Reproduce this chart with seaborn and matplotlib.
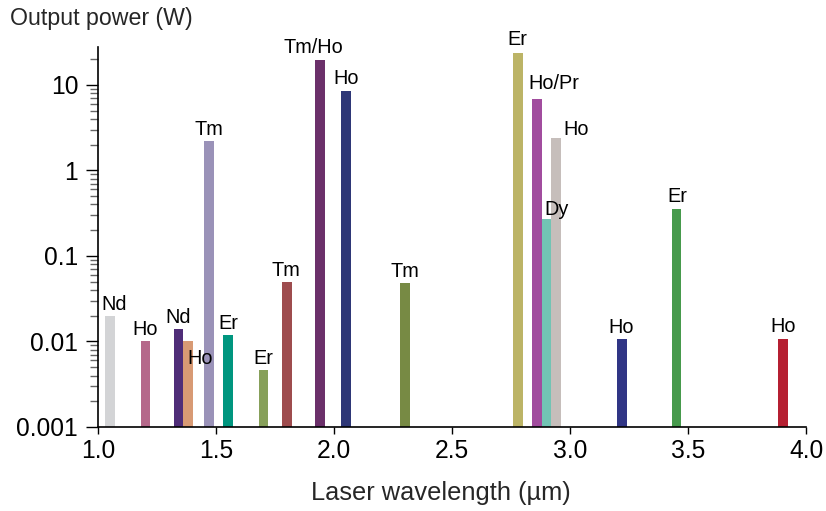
import matplotlib
matplotlib.use("Agg")
import matplotlib.pyplot as plt
import matplotlib.ticker as mticker
import numpy as np
import pandas as pd
import seaborn as sns

# ---- data ----
wavelength_um = [1.05, 1.20, 1.34, 1.38, 1.47, 1.55, 1.70, 1.80, 1.94, 2.05,
                 2.30, 2.78, 2.86, 2.90, 2.94, 3.22, 3.45, 3.90]
power_w = [0.020, 0.010, 0.014, 0.010, 2.2, 0.012, 0.0047, 0.050, 19.5, 8.6,
           0.048, 23.5, 6.9, 0.27, 2.4, 0.0107, 0.355, 0.0108]
ion = ["Nd", "Ho", "Nd", "Ho", "Tm", "Er", "Er", "Tm", "Tm/Ho", "Ho",
       "Tm", "Er", "Ho/Pr", "Dy", "Ho", "Ho", "Er", "Ho"]
xticks = [1.0, 1.5, 2.0, 2.5, 3.0, 3.5, 4.0]
yticks = [0.001, 0.01, 0.1, 1, 10]
ytick_labels = ["0.001", "0.01", "0.1", "1", "10"]

# ---- styles ----
bar_colors = ["#d3d4d6", "#b5688a", "#4f2d78", "#d89a74", "#9a92b8", "#00967f",
              "#87a05a", "#9e4c4e", "#6b306a", "#2e3777", "#778a44", "#bcb466",
              "#a14c9e", "#72c4b4", "#c6bebb", "#303585", "#469a4c", "#b51f31"]
# label offsets in pixels (dx, dy) and vertical alignment
label_offsets = [(4, 6), (0, 6), (0, 6), (12, -8), (0, 6), (0, 6), (0, 6), (-1, 6),
                 (-7, 7), (0, 7), (0, 6), (-1, 8), (17, 10), (10, 4), (20, 3),
                 (-1, 6), (1, 7), (0, 7)]
label_va = ["baseline"] * len(ion)
label_va[3] = "top"

df = pd.DataFrame({"wl": wavelength_um, "p": power_w,
                   "id": [f"b{i}" for i in range(len(ion))]})
palette = {f"b{i}": c for i, c in enumerate(bar_colors)}

sns.set_style("ticks")
plt.rcParams["font.family"] = ["Liberation Sans", "DejaVu Sans"]

fig = plt.figure(figsize=(8.26, 5.11), dpi=100)
ax = fig.add_axes([98.3 / 826, 1 - 427 / 511, (806.3 - 98.3) / 826, (427 - 46.7) / 511])
ax.set_yscale("log")

sns.barplot(data=df, x="wl", y="p", hue="id", palette=palette, native_scale=True,
            dodge=False, width=1.05, legend=False, ax=ax, saturation=1,
            linewidth=0, errorbar=None)

ax.set_xlim(1.0, 4.0)
ax.set_ylim(0.001, 28)
ax.set_xticks(xticks)
ax.set_xticklabels([f"{t:.1f}" for t in xticks])
ax.set_yticks(yticks)
ax.set_yticklabels(ytick_labels)
ax.yaxis.set_minor_locator(mticker.LogLocator(base=10, subs=np.arange(2, 10)))
ax.yaxis.set_minor_formatter(mticker.NullFormatter())

ax.tick_params(axis="both", which="major", labelsize=17.7, colors="black", width=1.0)
ax.tick_params(axis="x", which="major", length=5, pad=3.5)
ax.tick_params(axis="y", which="major", length=9, pad=5.5)
ax.tick_params(axis="y", which="minor", length=6, width=1.0, color="#666666")
ax.tick_params(axis="x", which="minor", bottom=False)

for s in ["top", "right"]:
    ax.spines[s].set_visible(False)
for s in ["left", "bottom"]:
    ax.spines[s].set_linewidth(1.2)
    ax.spines[s].set_color("black")

ax.set_xlabel("")
ax.set_ylabel("")

for i in range(len(ion)):
    ax.annotate(ion[i], xy=(wavelength_um[i], power_w[i]), xytext=label_offsets[i],
                textcoords="offset pixels", ha="center", va=label_va[i],
                fontsize=14.3, color="black")

fig.text(10 / 826, 1 - 18 / 511, "Output power (W)", fontsize=16.7, ha="left", va="center")
fig.text((309 + 572) / 2 / 826, 1 - 493 / 511, "Laser wavelength (\u00b5m)", fontsize=18.3,
         ha="center", va="center")

fig.savefig("out.png", dpi=100)
